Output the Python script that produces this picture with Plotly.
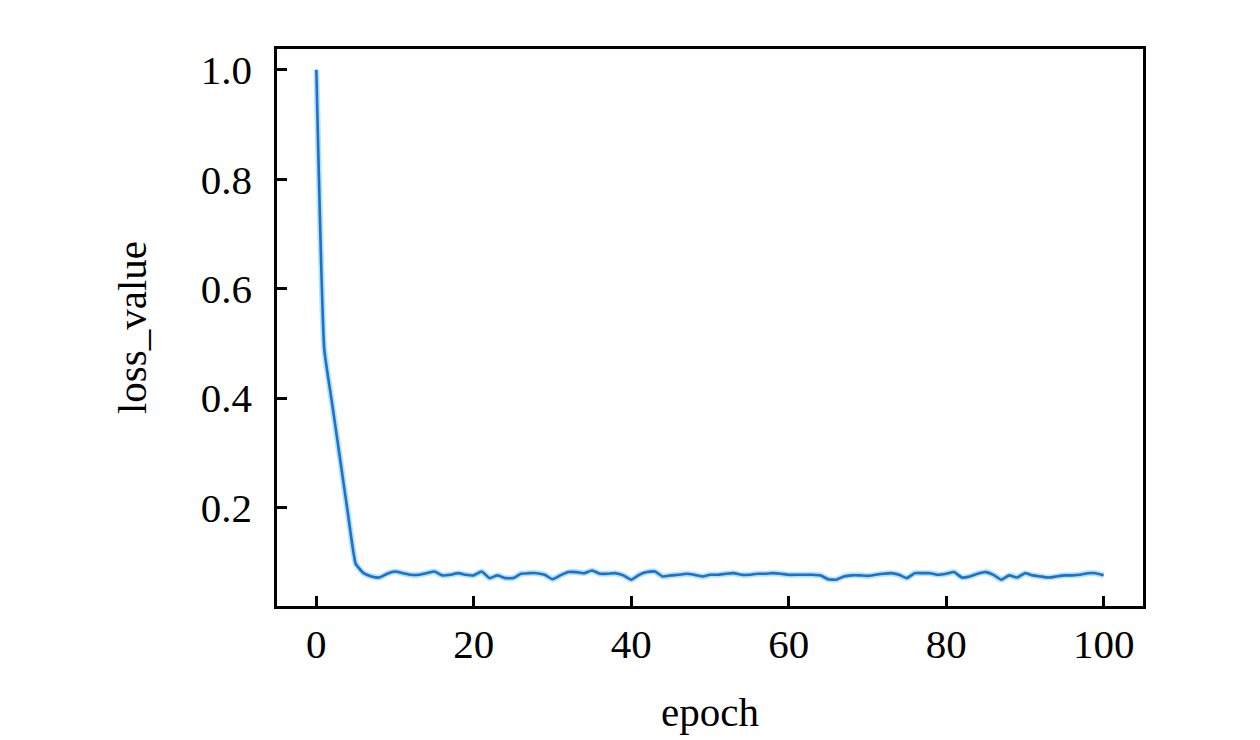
import plotly.graph_objects as go

# loss per epoch
epoch = list(range(101))
loss_value = [
    1.000, 0.490, 0.390, 0.290, 0.190, 0.097, 0.080, 0.074, 0.072, 0.079,
    0.083, 0.080, 0.077, 0.077, 0.080, 0.083, 0.076, 0.077, 0.080, 0.077,
    0.076, 0.083, 0.071, 0.076, 0.071, 0.071, 0.079, 0.080, 0.080, 0.077,
    0.069, 0.076, 0.082, 0.082, 0.080, 0.085, 0.079, 0.079, 0.080, 0.076,
    0.068, 0.077, 0.082, 0.083, 0.074, 0.076, 0.077, 0.079, 0.077, 0.074,
    0.077, 0.077, 0.079, 0.080, 0.077, 0.077, 0.079, 0.079, 0.080, 0.079,
    0.077, 0.077, 0.077, 0.077, 0.076, 0.069, 0.068, 0.074, 0.076, 0.076,
    0.075, 0.077, 0.079, 0.080, 0.077, 0.071, 0.080, 0.080, 0.080, 0.077,
    0.079, 0.082, 0.072, 0.074, 0.079, 0.082, 0.077, 0.068, 0.076, 0.072,
    0.080, 0.076, 0.074, 0.072, 0.074, 0.076, 0.076, 0.077, 0.080, 0.080,
    0.076,
]

fig = go.Figure()
# soft halo under the line
fig.add_trace(go.Scatter(x=epoch, y=loss_value, mode="lines",
                         line=dict(color="rgba(120,205,215,0.55)", width=6,
                                   shape="spline", smoothing=0.4),
                         hoverinfo="skip"))
fig.add_trace(go.Scatter(x=epoch, y=loss_value, mode="lines",
                         line=dict(color="#1f6fd2", width=2.6,
                                   shape="spline", smoothing=0.4)))

serif = "Liberation Serif"
axis_style = dict(
    showgrid=False, zeroline=False,
    showline=True, linecolor="black", linewidth=2.5, mirror=True,
    ticks="inside", ticklen=10, tickwidth=2.5, tickcolor="black",
    tickfont=dict(family=serif, size=41, color="black"),
)

# page body adds an 8px margin, so the figure is sized 8px short
fig.update_layout(
    width=1252, height=732,
    paper_bgcolor="white", plot_bgcolor="white",
    showlegend=False,
    margin=dict(l=269, r=117, t=41, b=131),
    font=dict(family=serif, size=41, color="black"),
    xaxis=dict(axis_style, range=[-5, 105], tickvals=[0, 20, 40, 60, 80, 100],
               ticklabelstandoff=0,
               title=dict(text="epoch", standoff=32,
                          font=dict(family=serif, size=41))),
    yaxis=dict(axis_style, range=[0.02, 1.038],
               tickvals=[0.2, 0.4, 0.6, 0.8, 1.0], ticktext=["0.2", "0.4", "0.6", "0.8", "1.0"],
               ticklabelstandoff=14,
               title=dict(text="loss_value", standoff=42,
                          font=dict(family=serif, size=41))),
)

fig.write_html("out.html")
